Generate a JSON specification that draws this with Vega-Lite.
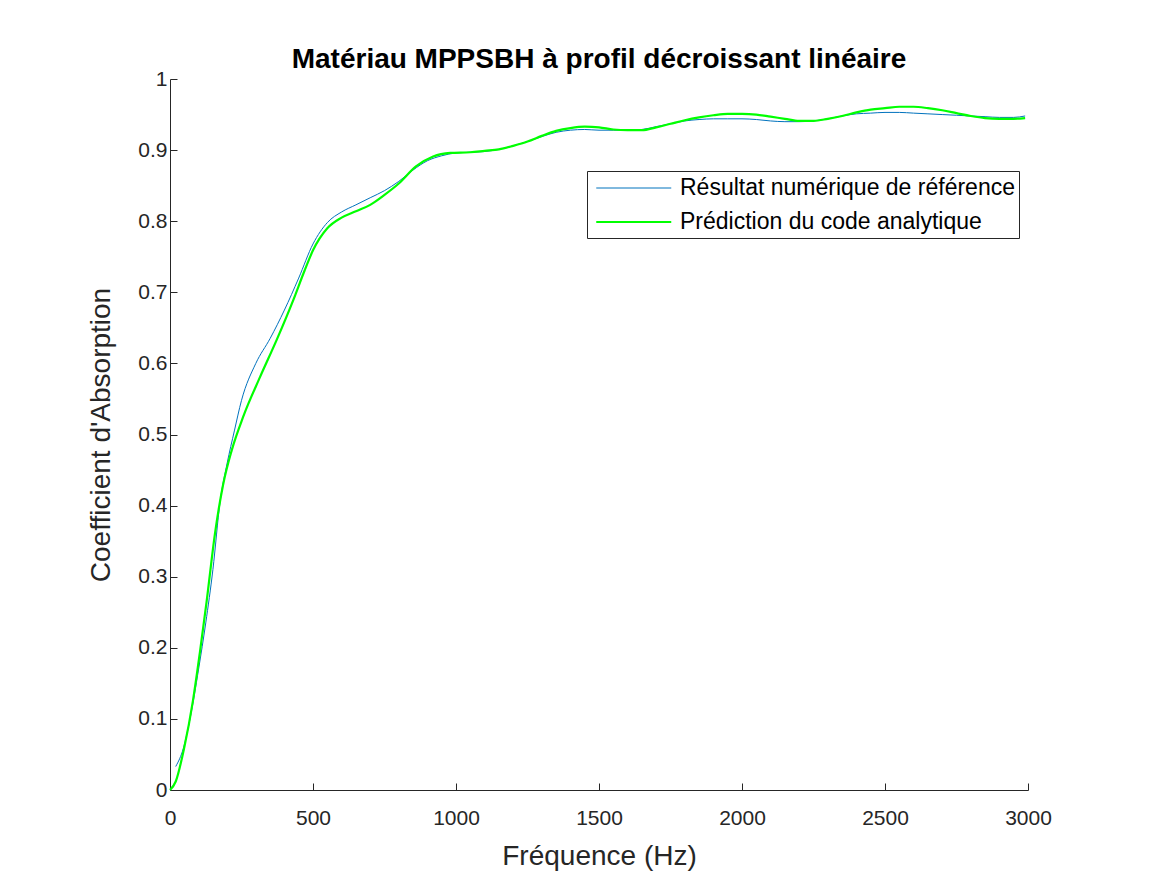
{
  "$schema": "https://vega.github.io/schema/vega-lite/v6.json",
  "autosize": {"type": "none"},
  "padding": {"left": 170, "top": 79, "right": 131, "bottom": 100},
  "width": 858,
  "height": 711,
  "background": "white",
  "title": {
    "text": "Matériau MPPSBH à profil décroissant linéaire",
    "font": "Liberation Sans",
    "fontSize": 28,
    "fontWeight": "bold",
    "color": "#000000",
    "anchor": "middle",
    "offset": 9,
    "dy": 15
  },
  "config": {
    "view": {"stroke": null},
    "axis": {
      "grid": false,
      "domainColor": "#262626",
      "tickColor": "#262626",
      "labelColor": "#262626",
      "titleColor": "#262626",
      "labelFont": "Liberation Sans",
      "titleFont": "Liberation Sans",
      "labelFontSize": 21,
      "titleFontSize": 28,
      "titleFontWeight": "normal",
      "tickSize": -7,
      "domainWidth": 1,
      "tickWidth": 1
    }
  },
  "datasets": {
    "curves": [
      {"f": 20, "a": 0.033, "s": "Résultat numérique de référence"},
      {"f": 47, "a": 0.059, "s": "Résultat numérique de référence"},
      {"f": 70, "a": 0.1, "s": "Résultat numérique de référence"},
      {"f": 100, "a": 0.17, "s": "Résultat numérique de référence"},
      {"f": 125, "a": 0.235, "s": "Résultat numérique de référence"},
      {"f": 150, "a": 0.31, "s": "Résultat numérique de référence"},
      {"f": 175, "a": 0.405, "s": "Résultat numérique de référence"},
      {"f": 200, "a": 0.46, "s": "Résultat numérique de référence"},
      {"f": 225, "a": 0.505, "s": "Résultat numérique de référence"},
      {"f": 250, "a": 0.548, "s": "Résultat numérique de référence"},
      {"f": 300, "a": 0.6, "s": "Résultat numérique de référence"},
      {"f": 350, "a": 0.635, "s": "Résultat numérique de référence"},
      {"f": 400, "a": 0.675, "s": "Résultat numérique de référence"},
      {"f": 450, "a": 0.72, "s": "Résultat numérique de référence"},
      {"f": 500, "a": 0.768, "s": "Résultat numérique de référence"},
      {"f": 550, "a": 0.798, "s": "Résultat numérique de référence"},
      {"f": 600, "a": 0.813, "s": "Résultat numérique de référence"},
      {"f": 650, "a": 0.823, "s": "Résultat numérique de référence"},
      {"f": 700, "a": 0.833, "s": "Résultat numérique de référence"},
      {"f": 750, "a": 0.843, "s": "Résultat numérique de référence"},
      {"f": 800, "a": 0.856, "s": "Résultat numérique de référence"},
      {"f": 850, "a": 0.872, "s": "Résultat numérique de référence"},
      {"f": 900, "a": 0.885, "s": "Résultat numérique de référence"},
      {"f": 950, "a": 0.892, "s": "Résultat numérique de référence"},
      {"f": 1000, "a": 0.896, "s": "Résultat numérique de référence"},
      {"f": 1050, "a": 0.897, "s": "Résultat numérique de référence"},
      {"f": 1100, "a": 0.898, "s": "Résultat numérique de référence"},
      {"f": 1150, "a": 0.901, "s": "Résultat numérique de référence"},
      {"f": 1200, "a": 0.906, "s": "Résultat numérique de référence"},
      {"f": 1250, "a": 0.912, "s": "Résultat numérique de référence"},
      {"f": 1300, "a": 0.919, "s": "Résultat numérique de référence"},
      {"f": 1350, "a": 0.925, "s": "Résultat numérique de référence"},
      {"f": 1400, "a": 0.928, "s": "Résultat numérique de référence"},
      {"f": 1450, "a": 0.929, "s": "Résultat numérique de référence"},
      {"f": 1500, "a": 0.928, "s": "Résultat numérique de référence"},
      {"f": 1550, "a": 0.928, "s": "Résultat numérique de référence"},
      {"f": 1600, "a": 0.928, "s": "Résultat numérique de référence"},
      {"f": 1650, "a": 0.929, "s": "Résultat numérique de référence"},
      {"f": 1700, "a": 0.933, "s": "Résultat numérique de référence"},
      {"f": 1750, "a": 0.937, "s": "Résultat numérique de référence"},
      {"f": 1800, "a": 0.941, "s": "Résultat numérique de référence"},
      {"f": 1850, "a": 0.943, "s": "Résultat numérique de référence"},
      {"f": 1900, "a": 0.944, "s": "Résultat numérique de référence"},
      {"f": 1950, "a": 0.944, "s": "Résultat numérique de référence"},
      {"f": 2000, "a": 0.944, "s": "Résultat numérique de référence"},
      {"f": 2050, "a": 0.943, "s": "Résultat numérique de référence"},
      {"f": 2100, "a": 0.941, "s": "Résultat numérique de référence"},
      {"f": 2150, "a": 0.94, "s": "Résultat numérique de référence"},
      {"f": 2200, "a": 0.94, "s": "Résultat numérique de référence"},
      {"f": 2250, "a": 0.941, "s": "Résultat numérique de référence"},
      {"f": 2300, "a": 0.944, "s": "Résultat numérique de référence"},
      {"f": 2350, "a": 0.948, "s": "Résultat numérique de référence"},
      {"f": 2400, "a": 0.951, "s": "Résultat numérique de référence"},
      {"f": 2450, "a": 0.952, "s": "Résultat numérique de référence"},
      {"f": 2500, "a": 0.953, "s": "Résultat numérique de référence"},
      {"f": 2550, "a": 0.953, "s": "Résultat numérique de référence"},
      {"f": 2600, "a": 0.952, "s": "Résultat numérique de référence"},
      {"f": 2650, "a": 0.951, "s": "Résultat numérique de référence"},
      {"f": 2700, "a": 0.95, "s": "Résultat numérique de référence"},
      {"f": 2750, "a": 0.949, "s": "Résultat numérique de référence"},
      {"f": 2800, "a": 0.948, "s": "Résultat numérique de référence"},
      {"f": 2850, "a": 0.947, "s": "Résultat numérique de référence"},
      {"f": 2900, "a": 0.946, "s": "Résultat numérique de référence"},
      {"f": 2950, "a": 0.946, "s": "Résultat numérique de référence"},
      {"f": 2990, "a": 0.948, "s": "Résultat numérique de référence"},
      {"f": 0, "a": 0.0, "s": "Prédiction du code analytique"},
      {"f": 20, "a": 0.012, "s": "Prédiction du code analytique"},
      {"f": 50, "a": 0.06, "s": "Prédiction du code analytique"},
      {"f": 80, "a": 0.125, "s": "Prédiction du code analytique"},
      {"f": 105, "a": 0.195, "s": "Prédiction du code analytique"},
      {"f": 128, "a": 0.265, "s": "Prédiction du code analytique"},
      {"f": 157, "a": 0.36, "s": "Prédiction du code analytique"},
      {"f": 186, "a": 0.43, "s": "Prédiction du code analytique"},
      {"f": 216, "a": 0.478, "s": "Prédiction du code analytique"},
      {"f": 256, "a": 0.525, "s": "Prédiction du code analytique"},
      {"f": 315, "a": 0.581, "s": "Prédiction du code analytique"},
      {"f": 373, "a": 0.633, "s": "Prédiction du code analytique"},
      {"f": 431, "a": 0.689, "s": "Prédiction du code analytique"},
      {"f": 470, "a": 0.73, "s": "Prédiction du code analytique"},
      {"f": 500, "a": 0.759, "s": "Prédiction du code analytique"},
      {"f": 550, "a": 0.79, "s": "Prédiction du code analytique"},
      {"f": 600, "a": 0.805, "s": "Prédiction du code analytique"},
      {"f": 650, "a": 0.814, "s": "Prédiction du code analytique"},
      {"f": 700, "a": 0.823, "s": "Prédiction du code analytique"},
      {"f": 750, "a": 0.837, "s": "Prédiction du code analytique"},
      {"f": 800, "a": 0.853, "s": "Prédiction du code analytique"},
      {"f": 860, "a": 0.877, "s": "Prédiction du code analytique"},
      {"f": 920, "a": 0.891, "s": "Prédiction du code analytique"},
      {"f": 980, "a": 0.896, "s": "Prédiction du code analytique"},
      {"f": 1050, "a": 0.897, "s": "Prédiction du code analytique"},
      {"f": 1100, "a": 0.899, "s": "Prédiction du code analytique"},
      {"f": 1150, "a": 0.901, "s": "Prédiction du code analytique"},
      {"f": 1200, "a": 0.906, "s": "Prédiction du code analytique"},
      {"f": 1250, "a": 0.912, "s": "Prédiction du code analytique"},
      {"f": 1300, "a": 0.92, "s": "Prédiction du code analytique"},
      {"f": 1350, "a": 0.927, "s": "Prédiction du code analytique"},
      {"f": 1400, "a": 0.931, "s": "Prédiction du code analytique"},
      {"f": 1450, "a": 0.933, "s": "Prédiction du code analytique"},
      {"f": 1500, "a": 0.932, "s": "Prédiction du code analytique"},
      {"f": 1550, "a": 0.929, "s": "Prédiction du code analytique"},
      {"f": 1600, "a": 0.928, "s": "Prédiction du code analytique"},
      {"f": 1650, "a": 0.928, "s": "Prédiction du code analytique"},
      {"f": 1700, "a": 0.932, "s": "Prédiction du code analytique"},
      {"f": 1750, "a": 0.937, "s": "Prédiction du code analytique"},
      {"f": 1800, "a": 0.942, "s": "Prédiction du code analytique"},
      {"f": 1850, "a": 0.946, "s": "Prédiction du code analytique"},
      {"f": 1900, "a": 0.949, "s": "Prédiction du code analytique"},
      {"f": 1950, "a": 0.951, "s": "Prédiction du code analytique"},
      {"f": 2000, "a": 0.951, "s": "Prédiction du code analytique"},
      {"f": 2050, "a": 0.95, "s": "Prédiction du code analytique"},
      {"f": 2100, "a": 0.947, "s": "Prédiction du code analytique"},
      {"f": 2150, "a": 0.944, "s": "Prédiction du code analytique"},
      {"f": 2200, "a": 0.941, "s": "Prédiction du code analytique"},
      {"f": 2250, "a": 0.941, "s": "Prédiction du code analytique"},
      {"f": 2300, "a": 0.944, "s": "Prédiction du code analytique"},
      {"f": 2350, "a": 0.948, "s": "Prédiction du code analytique"},
      {"f": 2400, "a": 0.953, "s": "Prédiction du code analytique"},
      {"f": 2450, "a": 0.957, "s": "Prédiction du code analytique"},
      {"f": 2500, "a": 0.959, "s": "Prédiction du code analytique"},
      {"f": 2550, "a": 0.961, "s": "Prédiction du code analytique"},
      {"f": 2600, "a": 0.961, "s": "Prédiction du code analytique"},
      {"f": 2650, "a": 0.959, "s": "Prédiction du code analytique"},
      {"f": 2700, "a": 0.956, "s": "Prédiction du code analytique"},
      {"f": 2750, "a": 0.952, "s": "Prédiction du code analytique"},
      {"f": 2800, "a": 0.948, "s": "Prédiction du code analytique"},
      {"f": 2850, "a": 0.945, "s": "Prédiction du code analytique"},
      {"f": 2900, "a": 0.944, "s": "Prédiction du code analytique"},
      {"f": 2950, "a": 0.944, "s": "Prédiction du code analytique"},
      {"f": 2990, "a": 0.945, "s": "Prédiction du code analytique"}
    ]
  },
  "data": {"name": "curves"},
  "mark": {"type": "line", "interpolate": "monotone"},
  "encoding": {
    "x": {
      "field": "f",
      "type": "quantitative",
      "scale": {"domain": [0, 3000], "nice": false, "zero": false},
      "axis": {"values": [0, 500, 1000, 1500, 2000, 2500, 3000], "format": "d", "title": "Fréquence (Hz)", "labelPadding": 24, "titlePadding": 14, "labelFlush": false}
    },
    "y": {
      "field": "a",
      "type": "quantitative",
      "scale": {"domain": [0, 1], "nice": false},
      "axis": {"values": [0, 0.1, 0.2, 0.3, 0.4, 0.5, 0.6, 0.7, 0.8, 0.9, 1], "format": "~g", "title": "Coefficient d'Absorption", "labelPadding": 10, "titlePadding": 22, "labelFlush": false}
    },
    "color": {
      "field": "s",
      "type": "nominal",
      "sort": ["Résultat numérique de référence", "Prédiction du code analytique"],
      "scale": {"domain": ["Résultat numérique de référence", "Prédiction du code analytique"], "range": ["#0072BD", "#00FF00"]},
      "legend": {
        "title": null,
        "orient": "none",
        "legendX": 417,
        "legendY": 92,
        "symbolType": "M-0.7,0H5.3",
        "symbolSize": 625,
        "labelOffset": 61,
        "labelLimit": 0,
        "labelFont": "Liberation Sans",
        "labelFontSize": 23,
        "labelColor": "#000000",
        "padding": 4,
        "rowPadding": 8,
        "strokeColor": "#262626",
        "fillColor": "white"
      }
    },
    "strokeWidth": {
      "field": "s",
      "type": "nominal",
      "sort": ["Résultat numérique de référence", "Prédiction du code analytique"],
      "scale": {"domain": ["Résultat numérique de référence", "Prédiction du code analytique"], "range": [1, 2.2]},
      "legend": null
    }
  }
}
